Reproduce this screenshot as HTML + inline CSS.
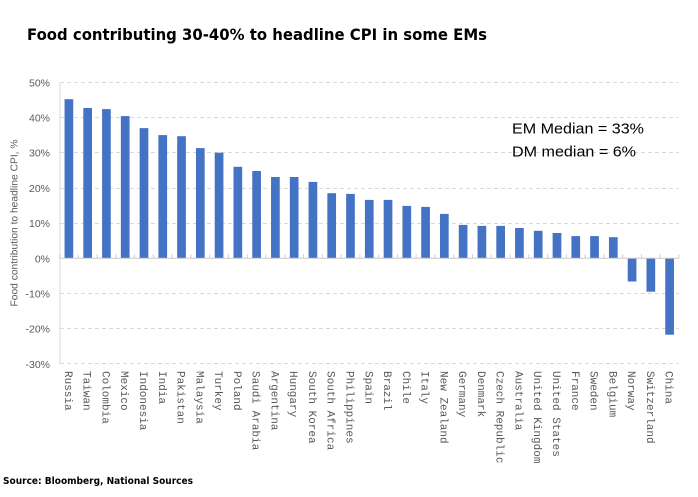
<!DOCTYPE html>
<html>
<head>
<meta charset="utf-8">
<style>
  html,body{margin:0;padding:0;background:#fff;}
  svg{display:block;}
</style>
</head>
<body>
<svg width="698" height="497" viewBox="0 0 698 497" xmlns="http://www.w3.org/2000/svg">
  <rect width="698" height="497" fill="#ffffff"/>
  <text x="27" y="40" font-family="'DejaVu Sans', 'Liberation Sans', sans-serif" font-weight="bold" font-size="16" fill="#000" textLength="460" lengthAdjust="spacingAndGlyphs">Food contributing 30-40% to headline CPI in some EMs</text>

  <g stroke="#d9d9d9" stroke-width="1" stroke-dasharray="4,3">
    <line x1="60" y1="82.5" x2="679" y2="82.5"/>
    <line x1="60" y1="117.5" x2="679" y2="117.5"/>
    <line x1="60" y1="152.5" x2="679" y2="152.5"/>
    <line x1="60" y1="188.5" x2="679" y2="188.5"/>
    <line x1="60" y1="223.5" x2="679" y2="223.5"/>
    <line x1="60" y1="293.5" x2="679" y2="293.5"/>
    <line x1="60" y1="328.5" x2="679" y2="328.5"/>
    <line x1="60" y1="363.5" x2="679" y2="363.5"/>
  </g>
  <line x1="60" y1="82" x2="60" y2="364" stroke="#d9d9d9" stroke-width="1"/>

  <g font-family="'Liberation Sans', sans-serif" font-size="10.5" fill="#595959" text-anchor="end">
    <text x="50" y="86.3">50%</text>
    <text x="50" y="121.5">40%</text>
    <text x="50" y="156.7">30%</text>
    <text x="50" y="191.9">20%</text>
    <text x="50" y="227.1">10%</text>
    <text x="50" y="262.3">0%</text>
    <text x="50" y="297.5">-10%</text>
    <text x="50" y="332.7">-20%</text>
    <text x="50" y="367.9">-30%</text>
  </g>

  <text transform="translate(17.5,223) rotate(-90)" text-anchor="middle" font-family="'Liberation Sans', sans-serif" font-size="10" fill="#595959" textLength="167" lengthAdjust="spacingAndGlyphs">Food contribution to headline CPI, %</text>

  <g fill="#4472C4">
    <rect x="64.54" y="99.2" width="8.7" height="159.1"/>
    <rect x="83.31" y="108.0" width="8.7" height="150.3"/>
    <rect x="102.08" y="109.1" width="8.7" height="149.2"/>
    <rect x="120.86" y="116.1" width="8.7" height="142.2"/>
    <rect x="139.63" y="128.1" width="8.7" height="130.2"/>
    <rect x="158.40" y="135.1" width="8.7" height="123.2"/>
    <rect x="177.17" y="136.2" width="8.7" height="122.1"/>
    <rect x="195.95" y="148.1" width="8.7" height="110.2"/>
    <rect x="214.72" y="152.7" width="8.7" height="105.6"/>
    <rect x="233.49" y="166.8" width="8.7" height="91.5"/>
    <rect x="252.26" y="171.0" width="8.7" height="87.3"/>
    <rect x="271.04" y="177.0" width="8.7" height="81.3"/>
    <rect x="289.81" y="177.0" width="8.7" height="81.3"/>
    <rect x="308.58" y="181.9" width="8.7" height="76.4"/>
    <rect x="327.35" y="193.2" width="8.7" height="65.1"/>
    <rect x="346.13" y="193.9" width="8.7" height="64.4"/>
    <rect x="364.90" y="199.9" width="8.7" height="58.4"/>
    <rect x="383.67" y="199.9" width="8.7" height="58.4"/>
    <rect x="402.45" y="205.9" width="8.7" height="52.4"/>
    <rect x="421.22" y="206.9" width="8.7" height="51.4"/>
    <rect x="439.99" y="213.9" width="8.7" height="44.4"/>
    <rect x="458.76" y="224.9" width="8.7" height="33.4"/>
    <rect x="477.54" y="225.9" width="8.7" height="32.4"/>
    <rect x="496.31" y="225.9" width="8.7" height="32.4"/>
    <rect x="515.08" y="228.0" width="8.7" height="30.3"/>
    <rect x="533.85" y="230.8" width="8.7" height="27.5"/>
    <rect x="552.63" y="233.0" width="8.7" height="25.3"/>
    <rect x="571.40" y="236.1" width="8.7" height="22.2"/>
    <rect x="590.17" y="236.1" width="8.7" height="22.2"/>
    <rect x="608.95" y="237.2" width="8.7" height="21.1"/>
    <rect x="627.72" y="258.3" width="8.7" height="23.2"/>
    <rect x="646.49" y="258.3" width="8.7" height="33.4"/>
    <rect x="665.26" y="258.3" width="8.7" height="76.4"/>
  </g>

  <line x1="59.5" y1="258.3" x2="679" y2="258.3" stroke="#c8c8c8" stroke-width="1"/>
  <path d="M59.5 258.3v-4 M78.27 258.3v-4 M97.05 258.3v-4 M115.82 258.3v-4 M134.59 258.3v-4 M153.36 258.3v-4 M172.14 258.3v-4 M190.91 258.3v-4 M209.68 258.3v-4 M228.45 258.3v-4 M247.23 258.3v-4 M266.00 258.3v-4 M284.77 258.3v-4 M303.55 258.3v-4 M322.32 258.3v-4 M341.09 258.3v-4 M359.86 258.3v-4 M378.64 258.3v-4 M397.41 258.3v-4 M416.18 258.3v-4 M434.95 258.3v-4 M453.73 258.3v-4 M472.50 258.3v-4 M491.27 258.3v-4 M510.05 258.3v-4 M528.82 258.3v-4 M547.59 258.3v-4 M566.36 258.3v-4 M585.14 258.3v-4 M603.91 258.3v-4 M622.68 258.3v-4 M641.45 258.3v-4 M660.23 258.3v-4 M679.00 258.3v-4" stroke="#d0d0d0" stroke-width="1" fill="none"/>

  <g font-family="'Liberation Mono', monospace" font-size="11" fill="#595959">
    <text transform="translate(64.9,371) rotate(90)">Russia</text>
    <text transform="translate(83.7,371) rotate(90)">Taiwan</text>
    <text transform="translate(102.4,371) rotate(90)">Colombia</text>
    <text transform="translate(121.2,371) rotate(90)">Mexico</text>
    <text transform="translate(140.0,371) rotate(90)">Indonesia</text>
    <text transform="translate(158.8,371) rotate(90)">India</text>
    <text transform="translate(177.5,371) rotate(90)">Pakistan</text>
    <text transform="translate(196.3,371) rotate(90)">Malaysia</text>
    <text transform="translate(215.1,371) rotate(90)">Turkey</text>
    <text transform="translate(233.8,371) rotate(90)">Poland</text>
    <text transform="translate(252.6,371) rotate(90)">Saudi Arabia</text>
    <text transform="translate(271.4,371) rotate(90)">Argentina</text>
    <text transform="translate(290.2,371) rotate(90)">Hungary</text>
    <text transform="translate(308.9,371) rotate(90)">South Korea</text>
    <text transform="translate(327.7,371) rotate(90)">South Africa</text>
    <text transform="translate(346.5,371) rotate(90)">Philippines</text>
    <text transform="translate(365.3,371) rotate(90)">Spain</text>
    <text transform="translate(384.0,371) rotate(90)">Brazil</text>
    <text transform="translate(402.8,371) rotate(90)">Chile</text>
    <text transform="translate(421.6,371) rotate(90)">Italy</text>
    <text transform="translate(440.3,371) rotate(90)">New Zealand</text>
    <text transform="translate(459.1,371) rotate(90)">Germany</text>
    <text transform="translate(477.9,371) rotate(90)">Denmark</text>
    <text transform="translate(496.7,371) rotate(90)">Czech Republic</text>
    <text transform="translate(515.4,371) rotate(90)">Australia</text>
    <text transform="translate(534.2,371) rotate(90)">United Kingdom</text>
    <text transform="translate(553.0,371) rotate(90)">United States</text>
    <text transform="translate(571.8,371) rotate(90)">France</text>
    <text transform="translate(590.5,371) rotate(90)">Sweden</text>
    <text transform="translate(609.3,371) rotate(90)">Belgium</text>
    <text transform="translate(628.1,371) rotate(90)">Norway</text>
    <text transform="translate(646.8,371) rotate(90)">Switzerland</text>
    <text transform="translate(665.6,371) rotate(90)">China</text>
  </g>

  <g font-family="'Liberation Sans', sans-serif" font-size="15" fill="#000">
    <text x="512" y="133.3" textLength="132" lengthAdjust="spacingAndGlyphs">EM Median = 33%</text>
    <text x="512" y="156.3" textLength="124" lengthAdjust="spacingAndGlyphs">DM median = 6%</text>
  </g>

  <text x="3" y="484" font-family="'DejaVu Sans', 'Liberation Sans', sans-serif" font-weight="bold" font-size="10" fill="#000" textLength="190" lengthAdjust="spacingAndGlyphs">Source: Bloomberg, National Sources</text>
</svg>
</body>
</html>
